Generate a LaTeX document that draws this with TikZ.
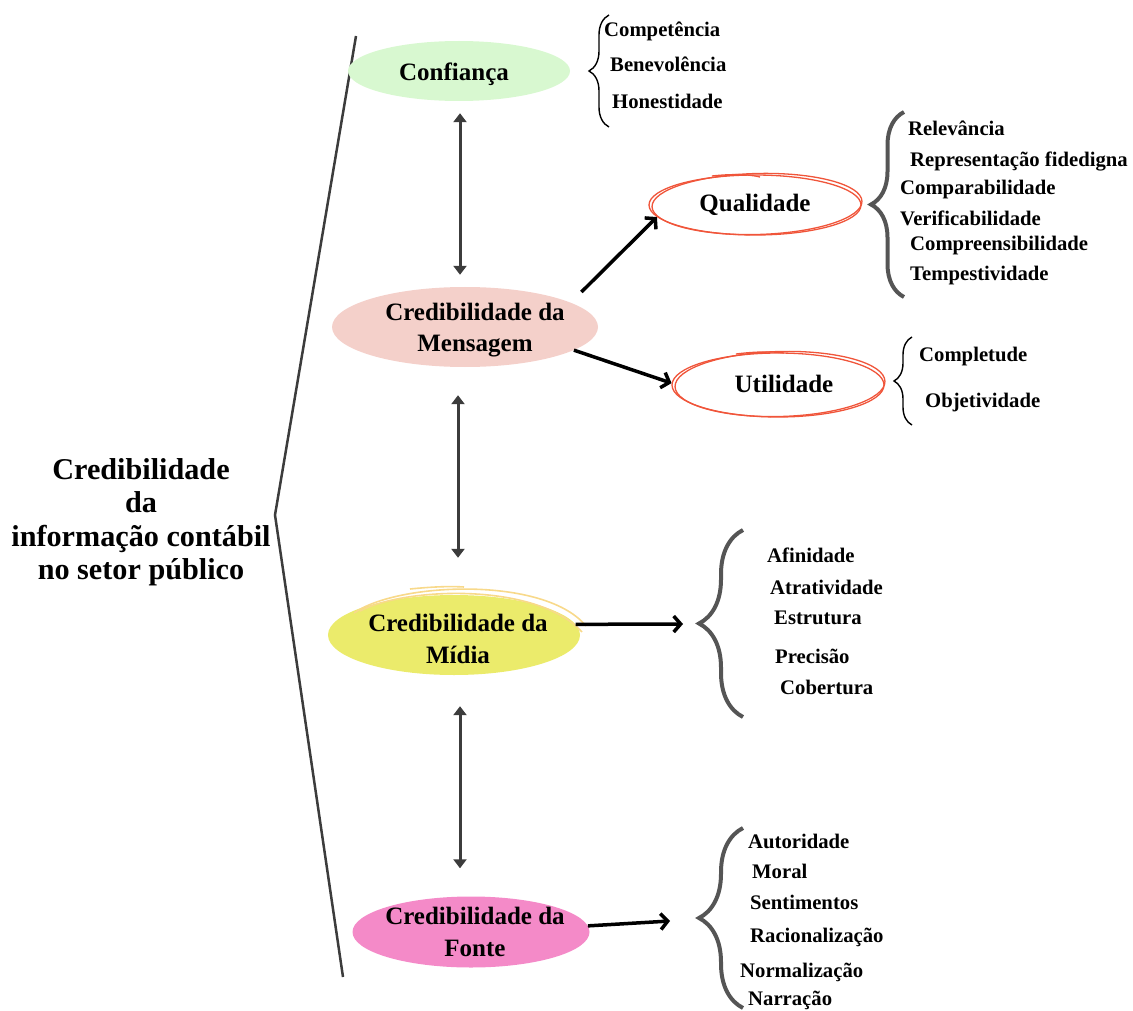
\documentclass[tikz,border=0pt]{standalone}
\usepackage{fontspec}
\setmainfont{Liberation Serif}
\usetikzlibrary{shapes.geometric,arrows.meta,decorations.pathreplacing}
\definecolor{verdeclaro}{HTML}{D8F8D0}
\definecolor{rosaclaro}{HTML}{F4D0CA}
\definecolor{amarelo}{HTML}{EBEB6B}
\definecolor{rosa}{HTML}{F48AC8}
\definecolor{vermelho}{HTML}{F0553A}
\definecolor{amareloesboco}{HTML}{F8D98A}
\definecolor{cinza}{HTML}{3C3C3C}
\definecolor{cinzachave}{HTML}{555555}
\tikzset{
  elipse/.style={ellipse,inner sep=0pt},
  rotulo/.style={font=\bfseries\fontsize{25}{31.5}\selectfont,align=center,inner sep=0pt},
  titulo/.style={font=\bfseries\fontsize{30.2}{33.5}\selectfont,align=center,inner sep=0pt},
  item/.style={anchor=west,inner sep=0pt,yshift=-2.5pt,font=\bfseries\fontsize{20.7}{24}\selectfont,text height=14pt,text depth=4pt},
  duplaseta/.style={<->,>={Triangle[length=9pt,width=13pt]},line width=3pt,cinza},
  seta/.style={->,>={Straight Barb[length=7pt,width=16pt]},line width=3.5pt},
  chave/.style={decorate,decoration={brace,amplitude=#1}},
  esboco/.style={vermelho,line width=1.3pt},
  esbocoamarelo/.style={amareloesboco,line width=1.6pt},
}
\begin{document}
\begin{tikzpicture}[x=1pt,y=-1pt]
  \useasboundingbox (0,0) rectangle (1133,1011);
  \draw[cinza,line width=2.5pt](356,36)--(275,515)--(343,977);%chave grande
  \node[titulo] (cred) at (141,522) {Credibilidade\\da\\informação contábil\\no setor público};
  % elipses
  \node[elipse,fill=verdeclaro,minimum width=222pt,minimum height=60pt,
    label={[rotulo,xshift=-5pt,yshift=-3pt]center:Confiança}] (conf) at (459,71) {};
  \node[elipse,fill=rosaclaro,minimum width=266pt,minimum height=80pt,
    label={[rotulo,xshift=10pt,yshift=-3pt]center:Credibilidade da\\Mensagem}] (msg) at (465,327) {};
  \node[elipse,fill=amarelo,minimum width=252pt,minimum height=80pt,
    label={[rotulo,xshift=4pt,yshift=-4pt]center:Credibilidade da\\Mídia}] (midia) at (454,635) {};
  \draw[esbocoamarelo](354,613)..controls(398,582)and(545,576)..(586,626);
  \draw[esbocoamarelo](360,611)..controls(405,587)and(537,582)..(582,632);
  \draw[esbocoamarelo](410,589)..controls(430,587)and(448,586)..(464,587);
  \node[elipse,fill=rosa,minimum width=237pt,minimum height=71pt,
    label={[rotulo,xshift=4pt]center:Credibilidade da\\Fonte}] (fonte) at (471,932) {};
  \node[elipse,draw=vermelho,line width=1.3pt,minimum width=212pt,minimum height=60pt,rotulo] (qual) at (755,205) {\raisebox{3pt}{Qualidade}};
  \draw[esboco](757,204) ellipse[x radius=105,y radius=30.5,rotate=1.5];
  \draw[esboco](712,176)..controls(730,174)and(748,174)..(760,177);
  \node[elipse,draw=vermelho,line width=1.3pt,minimum width=212pt,minimum height=64pt,rotulo] (util) at (778,385) {\hspace*{12pt}\raisebox{2pt}{Utilidade}};
  \draw[esboco](780,384) ellipse[x radius=105,y radius=32.5,rotate=1.5];
  \draw[esboco](736,354)..controls(752,352)and(770,351)..(784,353);
  % setas
  \draw[duplaseta]([xshift=1pt,yshift=-12pt]conf.south)--([xshift=-5pt,yshift=12pt]msg.north);
  \draw[duplaseta]([xshift=-7pt,yshift=-28pt]msg.south)--([xshift=4pt,yshift=37pt]midia.north);
  \draw[duplaseta]([xshift=6pt,yshift=-31pt]midia.south)--([xshift=-11pt,yshift=28pt]fonte.north);
  \draw[seta,shorten <=15pt](msg.13)--(qual.187);
  \draw[seta](msg.-12)--(util.179);
  \coordinate (pmidia) at (683,624);
  \coordinate (pfonte) at (670,921);
  \draw[seta](midia.5)--(pmidia);
  \draw[seta](fonte.3)--(pfonte);
  % chaves
  \draw[chave=20pt,line width=1.4pt](609,127)--(609,15);
  \draw[chave=33pt,cinzachave,line width=4pt](904,297)--(904,112);
  \draw[chave=18pt,line width=1.4pt](912,425)--(912,337);
  \draw[chave=44pt,cinzachave,line width=4pt](743,717)--(743,530);
  \draw[chave=44pt,cinzachave,line width=4pt](743,1008)--(743,828);
  % itens
  \foreach \px/\py/\txt [count=\i] in {604/29/Competência,610/64/Benevolência,612/101/Honestidade}
    \node[item] (conf\i) at (\px,\py) {\txt};
  \foreach \px/\py/\txt [count=\i] in {908/128/Relevância,910/159/Representação fidedigna,900/187/Comparabilidade,
      900/218/Verificabilidade,910/243/Compreensibilidade,910/273/Tempestividade}
    \node[item] (qual\i) at (\px,\py) {\txt};
  \foreach \px/\py/\txt [count=\i] in {919/354/Completude,925/400/Objetividade}
    \node[item] (util\i) at (\px,\py) {\txt};
  \foreach \px/\py/\txt [count=\i] in {767/555/Afinidade,770/587/Atratividade,774/617/Estrutura,775/656/Precisão,780/687/Cobertura}
    \node[item] (midia\i) at (\px,\py) {\txt};
  \foreach \px/\py/\txt [count=\i] in {748/841/Autoridade,752/871/Moral,750/902/Sentimentos,750/935/Racionalização,
      740/970/Normalização,748/998/Narração}
    \node[item] (fonte\i) at (\px,\py) {\txt};
\end{tikzpicture}
\end{document}
